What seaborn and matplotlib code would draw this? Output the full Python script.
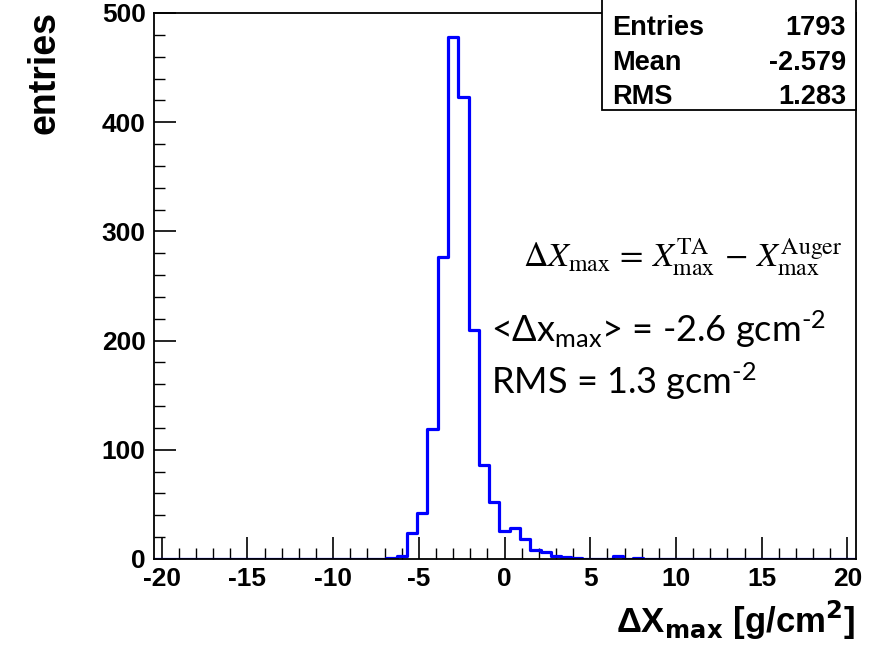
import matplotlib
matplotlib.use("Agg")
import matplotlib.pyplot as plt
import numpy as np
import pandas as pd
import seaborn as sns
from matplotlib.ticker import MultipleLocator

# bin centres (width 0.6) and counts
bin_centers = [-6.6, -6.0, -5.4, -4.8, -4.2, -3.6, -3.0, -2.4, -1.8, -1.2, -0.6,
               0.0, 0.6, 1.2, 1.8, 2.4, 3.0, 3.6, 4.2, 6.6, 7.8]
bin_counts = [1, 3, 24, 42, 119, 277, 478, 423, 210, 86, 52,
              26, 28, 18, 8, 6, 3, 2, 1, 3, 1]
bin_edges = np.round(np.arange(-20.7, 20.71, 0.6), 2).tolist()

stats_labels = ["Entries", "Mean", "RMS"]
stats_values = ["1793", "-2.579", "1.283"]

W, H = 879, 646

sns.set_theme(style="white")
plt.rcParams["axes.unicode_minus"] = False
plt.rcParams["mathtext.fontset"] = "custom"
plt.rcParams["mathtext.rm"] = "Lato"
plt.rcParams["mathtext.it"] = "Lato:italic"
plt.rcParams["mathtext.bf"] = "Lato:bold"

frame = pd.DataFrame({"dx": bin_centers, "n": bin_counts})

fig = plt.figure(figsize=(W / 100, H / 100), dpi=100)
ax = fig.add_axes([154 / W, 1 - 559 / H, (856 - 154) / W, (559 - 13) / H])

sns.histplot(data=frame, x="dx", weights="n", bins=bin_edges, element="step",
             fill=False, color="#0000ff", linewidth=2.3, ax=ax)

ax.set_xlim(-20.45, 20.5)
ax.set_ylim(0, 500)
ax.set_xlabel("")
ax.set_ylabel("")
for s in ax.spines.values():
    s.set_color("black")
    s.set_linewidth(1.3)

ax.xaxis.set_major_locator(MultipleLocator(5))
ax.xaxis.set_minor_locator(MultipleLocator(1))
ax.yaxis.set_major_locator(MultipleLocator(100))
ax.yaxis.set_minor_locator(MultipleLocator(20))
ax.tick_params(axis="both", which="major", direction="in", length=16, width=1.2,
               color="black", labelcolor="black", labelsize=19)
ax.tick_params(axis="both", which="minor", direction="in", length=8, width=1.0,
               color="black")
ax.tick_params(axis="x", which="both", bottom=True, top=False, pad=6)
ax.tick_params(axis="y", which="both", left=True, right=False, pad=6)
for lab in ax.get_xticklabels() + ax.get_yticklabels():
    lab.set_fontfamily("Liberation Sans")
    lab.set_fontweight("bold")
    lab.set_fontsize(19)

# axis titles, ROOT style
fig.text(45 / W, 1 - 72 / H, "entries", rotation=90, ha="center", va="center",
         family="Liberation Sans", weight="bold", fontsize=27, color="black")
fig.text(855 / W, 1 - 620 / H, r"ΔX$_{\mathbf{max}}$ [g/cm$^{\mathbf{2}}$]",
         ha="right", va="center", family="Liberation Sans", weight="bold",
         fontsize=25, math_fontfamily="dejavusans", color="black")

# stats box
box = plt.Rectangle((602 / W, 1 - 110 / H), (856 - 602) / W, 112 / H,
                    transform=fig.transFigure, facecolor="white",
                    edgecolor="black", linewidth=1.3, zorder=5)
fig.add_artist(box)
for i, (lab, val) in enumerate(zip(stats_labels, stats_values)):
    y = 1 - (28 + 34.5 * i) / H
    fig.text(612 / W, y, lab, ha="left", va="center", family="Liberation Sans",
             weight="bold", fontsize=19.5, zorder=6, color="black")
    fig.text(846 / W, y, val, ha="right", va="center", family="Liberation Sans",
             weight="bold", fontsize=19.5, zorder=6, color="black")

# annotations
ax.text(0.98, 0.553,
        r"$\Delta X_{\rm max}\,=\,X^{\rm TA}_{\rm max}\,-\,X^{\rm Auger}_{\rm max}$",
        transform=ax.transAxes, ha="right", va="center", fontsize=24.5,
        math_fontfamily="stix", color="black")
ax.text(0.48, 0.42, r"<Δx$_{\mathrm{max}}$> = -2.6 gcm$^{\text{-2}}$",
        transform=ax.transAxes, ha="left", va="center", fontsize=26,
        family=["Lato", "DejaVu Sans"], color="black")
ax.text(0.48, 0.325, r"RMS = 1.3 gcm$^{\text{-2}}$",
        transform=ax.transAxes, ha="left", va="center", fontsize=26,
        family=["Lato", "DejaVu Sans"], color="black")

fig.savefig("out.png", dpi=100)
